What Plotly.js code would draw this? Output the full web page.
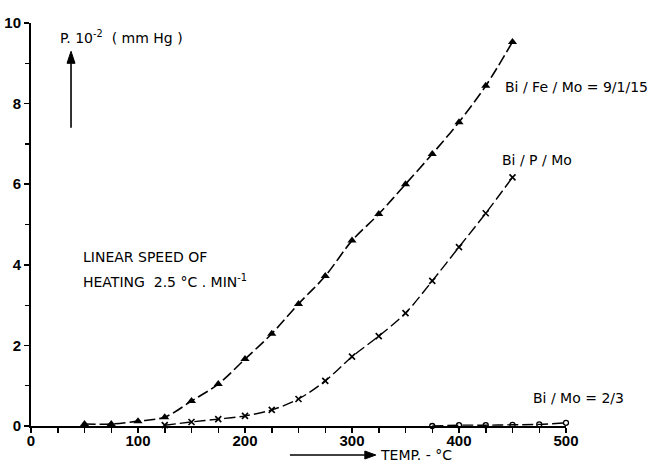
<!DOCTYPE html>
<html>
<head>
<meta charset="utf-8">
<script src="https://cdn.plot.ly/plotly-3.0.1.min.js"></script>
<style>html,body{margin:0;padding:0;background:#fff;}#chart{width:648px;height:468px;}</style>
</head>
<body>
<div id="chart"></div>
<script>
// Bi/Fe/Mo = 9/1/15 (triangles)
const feTemp = [50, 75, 100, 125, 150, 175, 200, 225, 250, 275, 300, 325, 350, 375, 400, 425, 450];
const fePress = [0.05, 0.05, 0.12, 0.22, 0.62, 1.04, 1.66, 2.29, 3.03, 3.72, 4.6, 5.26, 6.0, 6.75, 7.54, 8.44, 9.53];
// Bi/P/Mo (crosses)
const pTemp = [125, 150, 175, 200, 225, 250, 275, 300, 325, 350, 375, 400, 425, 450];
const pPress = [0.02, 0.1, 0.17, 0.25, 0.4, 0.67, 1.12, 1.72, 2.23, 2.8, 3.6, 4.44, 5.28, 6.17];
// Bi/Mo = 2/3 (open circles)
const moTemp = [375, 400, 425, 450, 475, 500];
const moPress = [0.0, 0.02, 0.02, 0.03, 0.04, 0.08];

const xTicks = [0, 100, 200, 300, 400, 500];
const yTicks = [0, 2, 4, 6, 8, 10];

const FONT = 'DejaVu Sans, Liberation Sans, sans-serif';
const TICKFONT = 'Liberation Sans Narrow, Liberation Sans, sans-serif';
const dashStyle = '11px,4px';

const traces = [
  {x: feTemp, y: fePress, mode: 'lines+markers', line: {color: '#000', width: 1.6, dash: dashStyle, shape: 'spline', smoothing: 0.9},
   marker: {symbol: 'triangle-up', size: 8, color: '#000'}, cliponaxis: false},
  {x: pTemp, y: pPress, mode: 'lines+markers', line: {color: '#000', width: 1.4, dash: dashStyle, shape: 'spline', smoothing: 0.9},
   marker: {symbol: 'x-thin', size: 6, color: '#000', line: {width: 1.6, color: '#000'}}, cliponaxis: false},
  {x: moTemp, y: moPress, mode: 'lines+markers', line: {color: '#000', width: 1.4, dash: dashStyle, shape: 'spline'},
   marker: {symbol: 'circle-open', size: 5, color: '#000', line: {width: 1.3}}, cliponaxis: false}
];

const layout = {
  width: 648, height: 468,
  margin: {l: 31, r: 82, t: 23, b: 42},
  paper_bgcolor: '#fff', plot_bgcolor: '#fff',
  showlegend: false,
  font: {family: FONT, color: '#000', size: 14},
  xaxis: {
    range: [0, 500], showgrid: false, zeroline: false,
    showline: true, linecolor: '#000', linewidth: 2,
    tickmode: 'array', tickvals: xTicks, ticktext: xTicks.map(String),
    ticks: '', tickfont: {family: TICKFONT, size: 15, color: '#000', weight: 'bold'},
    minor: {dtick: 25, tick0: 0, ticks: 'outside', ticklen: 5, tickcolor: '#000', tickwidth: 1.5, showgrid: false}
  },
  yaxis: {
    range: [0, 10], showgrid: false, zeroline: false,
    showline: true, linecolor: '#000', linewidth: 2,
    tickmode: 'array', tickvals: yTicks, ticktext: yTicks.map(String),
    ticks: 'outside', ticklen: 5, tickcolor: '#000', tickwidth: 1.5,
    tickfont: {family: TICKFONT, size: 15, color: '#000', weight: 'bold'},
    minor: {dtick: 1, tick0: 0, ticks: 'outside', ticklen: 4, tickcolor: '#000', tickwidth: 1.2, showgrid: false}
  },
  shapes: [
    // vertical arrow next to y label
    {type: 'line', xref: 'x', yref: 'y', x0: 37.4, x1: 37.4, y0: 7.4, y1: 9.0, line: {color: '#000', width: 1.6}},
    {type: 'path', xref: 'x', yref: 'y', xsizemode: 'pixel', ysizemode: 'pixel', xanchor: 37.4, yanchor: 9.0,
     path: 'M -4 0 L 4 0 L 0 12 Z', fillcolor: '#000', line: {color: '#000', width: 1}},
    // horizontal arrow before x title
    {type: 'line', xref: 'x', yref: 'paper', x0: 242, x1: 312, y0: -0.072, y1: -0.072, line: {color: '#000', width: 1.6}},
    {type: 'path', xref: 'x', yref: 'paper', xsizemode: 'pixel', ysizemode: 'pixel', xanchor: 312, yanchor: -0.072,
     path: 'M 0 -4 L 0 4 L 11 0 Z', fillcolor: '#000', line: {color: '#000', width: 1}}
  ],
  annotations: [
    {x: 441, y: 8.4, xref: 'x', yref: 'y', text: 'Bi / Fe / Mo = 9/1/15', showarrow: false, xanchor: 'left', yanchor: 'middle', font: {size: 14}},
    {x: 438, y: 6.6, xref: 'x', yref: 'y', text: 'Bi / P / Mo', showarrow: false, xanchor: 'left', yanchor: 'middle', font: {size: 14}},
    {x: 467, y: 0.7, xref: 'x', yref: 'y', text: 'Bi / Mo = 2/3', showarrow: false, xanchor: 'left', yanchor: 'middle', font: {size: 14}},
    {x: 47, y: 4.2, xref: 'x', yref: 'y', text: 'LINEAR SPEED OF', showarrow: false, xanchor: 'left', yanchor: 'middle', font: {size: 14}},
    {x: 47, y: 3.6, xref: 'x', yref: 'y', text: 'HEATING  2.5 °C . MIN<sup>-1</sup>', showarrow: false, xanchor: 'left', yanchor: 'middle', font: {size: 14}},
    {x: 25, y: 9.65, xref: 'x', yref: 'y', text: 'P. 10<sup>-2</sup>  ( mm Hg )', showarrow: false, xanchor: 'left', yanchor: 'middle', font: {size: 14}},
    {x: 324, y: -0.072, xref: 'x', yref: 'paper', text: 'TEMP. - °C', showarrow: false, xanchor: 'left', yanchor: 'middle', font: {size: 14}}
  ]
};

Plotly.newPlot('chart', traces, layout, {staticPlot: true, displayModeBar: false});
</script>
</body>
</html>
